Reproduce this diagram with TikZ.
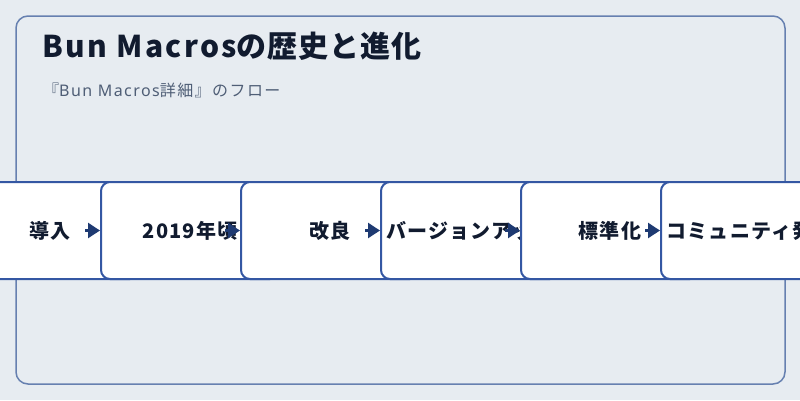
\documentclass[tikz,border=0pt]{standalone}
\usepackage{fontspec}
\setmainfont{Noto Sans CJK JP}
\newfontfamily\headfont[LetterSpace=8]{Noto Sans CJK JP}
\newfontfamily\headjp[LetterSpace=3.3]{Noto Sans CJK JP}
\newfontfamily\subfont[LetterSpace=9]{Noto Sans}
\newfontfamily\subjp[LetterSpace=9]{Noto Sans CJK JP}
\newfontfamily\stagejp[LetterSpace=6]{Noto Sans CJK JP}
\usetikzlibrary{arrows.meta}

\definecolor{bgcol}{HTML}{E7ECF1}
\definecolor{framecol}{HTML}{6680B0}
\definecolor{boxblue}{HTML}{3457A3}
\definecolor{arrowblue}{HTML}{1E3A72}
\definecolor{ink}{HTML}{111B2F}
\definecolor{subink}{HTML}{4F5E76}

\begin{document}
\begin{tikzpicture}[x=1pt,y=-1pt,node distance=140pt,
    stage/.style={draw=boxblue,line width=2pt,fill=white,rounded corners=9pt,
      minimum width=178pt,minimum height=97pt,inner sep=0pt,
      font=\stagejp\fontsize{20}{24}\selectfont\bfseries,text=ink},
    flow/.style={draw=arrowblue,line width=2.5pt,-{Triangle[length=12pt,width=15pt]}}]
    \useasboundingbox (0,0) rectangle (800,400);
    \clip (0,0) rectangle (800,400);
    \fill[bgcol] (0,0) rectangle (800,400);
    \draw[framecol,line width=1.5pt,rounded corners=12pt] (16,16) rectangle (785,384);

    %% heading
    \node[anchor=base west,inner sep=0pt,text=ink,font=\headfont\fontsize{30}{36}\selectfont\bfseries] (title) at (42,57) {Bun Macros{\headjp の歴史と進化}};
    \node[anchor=base west,inner sep=0pt,text=subink,font=\subjp\fontsize{16}{20}\selectfont] (sub) at (43,96) {『{\subfont Bun Macros}詳細』のフロー};

    %% stages
    \node[stage] (1) at (50,230.5) {導入};
    \node[stage,right of=1] (2) {2019年頃};
    \node[stage,right of=2] (3) {改良};
    \node[stage,right of=3] (4) {バージョンアップ};
    \node[stage,right of=4] (5) {標準化};
    \node[stage,right of=5] (6) {コミュニティ発展};

    %% links
    \draw[flow] ([xshift=-15pt]2.west) -- (2.west);
    \draw[flow] ([xshift=-15pt]3.west) -- (3.west);
    \draw[flow] ([xshift=-15pt]4.west) -- (4.west);
    \draw[flow] ([xshift=-15pt]5.west) -- (5.west);
    \draw[flow] ([xshift=-15pt]6.west) -- (6.west);
\end{tikzpicture}
\end{document}
